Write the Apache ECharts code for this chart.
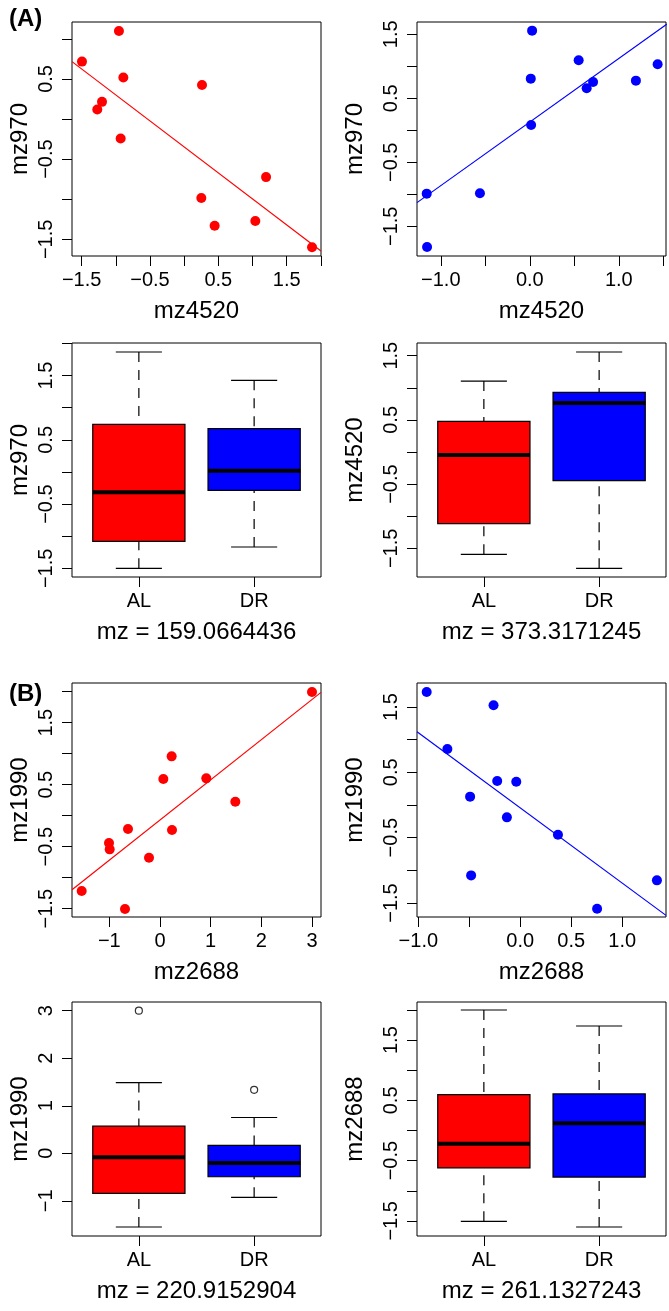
<!DOCTYPE html>
<html><head><meta charset="utf-8">
<script src="https://cdn.jsdelivr.net/npm/echarts@6/dist/echarts.min.js"></script>
<style>html,body{margin:0;padding:0;background:#fff}#c{width:669px;height:1311px}</style>
</head><body><div id="c"></div>
<script>
// ---------- DATA ----------
// (A) scatter, AL group (red): x = mz4520, y = mz970
const a1X = [-0.954,-1.495,-0.890,-1.202,-1.271,-0.929,0.261,0.251,0.446,1.198,1.041,1.871];
const a1Y = [1.097,0.716,0.517,0.214,0.118,-0.243,0.425,-0.985,-1.330,-0.724,-1.272,-1.600];
const a1Line = [[-1.641,0.716],[2.002,-1.645]];
// (A) scatter, DR group (blue)
const a2X = [0.026,0.549,1.436,0.011,0.639,0.711,1.192,0.015,-1.158,-0.560,-1.154];
const a2Y = [1.557,1.094,1.031,0.807,0.656,0.755,0.776,0.083,-0.990,-0.984,-1.823];
const a2Line = [[-1.267,-1.130],[1.538,1.656]];
// boxplots: [low whisker, Q1, median, Q3, high whisker]
const groups = ['AL','DR'];
const a3AL = [-1.500,-1.079,-0.317,0.742,1.868];
const a3DR = [-1.168,-0.285,0.021,0.675,1.427];
const a4AL = [-1.593,-1.116,-0.047,0.477,1.105];
const a4DR = [-1.811,-0.446,0.763,0.929,1.557];
// (B) scatter, AL group (red): x = mz2688, y = mz1990
const b1X = [3.000,0.230,0.066,0.914,1.487,-0.632,0.237,-1.007,-0.993,-0.217,-1.546,-0.691];
const b1Y = [1.995,0.957,0.591,0.602,0.226,-0.215,-0.231,-0.441,-0.543,-0.677,-1.215,-1.505];
const b1Line = [[-1.737,-1.194],[3.178,1.989]];
// (B) scatter, DR group (blue)
const b2X = [-0.918,-0.262,-0.715,-0.226,-0.039,-0.492,-0.131,0.370,-0.482,1.341,0.754];
const b2Y = [1.730,1.526,0.857,0.367,0.357,0.128,-0.189,-0.454,-1.077,-1.153,-1.587];
const b2Line = [[-1.013,1.122],[1.430,-1.689]];
const b3AL = [-1.552,-0.844,-0.081,0.571,1.489];
const b3DR = [-0.928,-0.494,-0.207,0.165,0.753];
const b3ALout = [3.002];
const b3DRout = [1.335];
const b4AL = [-1.508,-0.619,-0.221,0.597,2.000];
const b4DR = [-1.602,-0.773,0.122,0.608,1.735];

// axis ranges
const rA1 = {x:[-1.641,2.002], y:[-1.708,1.210]};
const rA2 = {x:[-1.267,1.530], y:[-1.964,1.692]};
const rA3 = {x:[0.42,2.58], y:[-1.635,2.008]};
const rA4 = {x:[0.42,2.58], y:[-1.946,1.697]};
const rB1 = {x:[-1.737,3.178], y:[-1.634,2.140]};
const rB2 = {x:[-1.013,1.430], y:[-1.714,1.867]};
const rB3 = {x:[0.42,2.58], y:[-1.741,3.184]};
const rB4 = {x:[0.42,2.58], y:[-1.751,2.133]};

// ticks and labelled ticks
const halfTicks = [-1.5,-1,-0.5,0,0.5,1,1.5,2];
const oddHalfLabels = [-1.5,-0.5,0.5,1.5];
const tA1x = [-1.5,-1,-0.5,0,0.5,1,1.5,2], lA1x = [-1.5,-0.5,0.5,1.5];
const tA1y = [-1.5,-1,-0.5,0,0.5,1], lA1y = [-1.5,-0.5,0.5];
const tA2x = [-1,-0.5,0,0.5,1,1.5], lA2x = [-1,0,1];
const tB1x = [-1,0,1,2,3], lB1x = [-1,0,1,2,3];
const tB2x = [-1,-0.5,0,0.5,1], lB2x = [-1,0,0.5,1];
const tB3y = [-1,0,1,2,3], lB3y = [-1,0,1,2,3];
const boxPos = [1,2];

// ---------- CHART ----------
const RED = '#FF0000', BLUE = '#0000FF';
const FONT = '"Liberation Sans", Arial, Helvetica, sans-serif';
const fmt = d => v => (Math.abs(v) < 1e-9 ? 0 : v).toFixed(d).replace('-', '\u2212');
const grpFmt = v => groups[Math.round(v) - 1];
const zip = (xs, ys) => xs.map((x, i) => [x, ys[i]]);

const layout = [
  {left:72, top:22}, {left:417, top:22},
  {left:72, top:343}, {left:417, top:343},
  {left:72, top:683}, {left:417, top:683},
  {left:72, top:1002}, {left:417, top:1002}
];
const grids = layout.map(l => ({
  left:l.left, top:l.top, width:249, height:234, show:true,
  borderColor:'#000', borderWidth:1, backgroundColor:'transparent',
  containLabel:false, outerBoundsMode:'none'
}));

function axis(dim, gi, range, ticks, labels, labelFmt, name, nameGap) {
  const isY = dim === 'y';
  return {
    type:'value', gridIndex:gi, min:range[0], max:range[1],
    name:name, nameLocation:'middle', nameGap:nameGap,
    nameTextStyle:{fontSize:24, color:'#000', fontFamily:FONT},
    axisLine:{show:false, onZero:false},
    splitLine:{show:false},
    axisTick:{show:true, inside:false, length:10, lineStyle:{color:'#000', width:1}, customValues:ticks},
    axisLabel:{show:true, customValues:labels, formatter:labelFmt, fontSize:20, color:'#000',
      fontFamily:FONT, margin:isY ? 16 : 14, rotate:isY ? 90 : 0},
    axisPointer:{show:false}
  };
}

const xAxes = [
  axis('x',0,rA1.x,tA1x,lA1x,fmt(1),'mz4520',43),
  axis('x',1,rA2.x,tA2x,lA2x,fmt(1),'mz4520',43),
  axis('x',2,rA3.x,boxPos,boxPos,grpFmt,'mz = 159.0664436',43),
  axis('x',3,rA4.x,boxPos,boxPos,grpFmt,'mz = 373.3171245',43),
  axis('x',4,rB1.x,tB1x,lB1x,fmt(0),'mz2688',43),
  axis('x',5,rB2.x,tB2x,lB2x,fmt(1),'mz2688',43),
  axis('x',6,rB3.x,boxPos,boxPos,grpFmt,'mz = 220.9152904',43),
  axis('x',7,rB4.x,boxPos,boxPos,grpFmt,'mz = 261.1327243',43)
];
const yAxes = [
  axis('y',0,rA1.y,tA1y,lA1y,fmt(1),'mz970',40),
  axis('y',1,rA2.y,halfTicks,oddHalfLabels,fmt(1),'mz970',50),
  axis('y',2,rA3.y,halfTicks,oddHalfLabels,fmt(1),'mz970',40),
  axis('y',3,rA4.y,halfTicks,oddHalfLabels,fmt(1),'mz4520',50),
  axis('y',4,rB1.y,halfTicks,oddHalfLabels,fmt(1),'mz1990',40),
  axis('y',5,rB2.y,halfTicks,oddHalfLabels,fmt(1),'mz1990',50),
  axis('y',6,rB3.y,tB3y,lB3y,fmt(0),'mz1990',40),
  axis('y',7,rB4.y,halfTicks,oddHalfLabels,fmt(1),'mz2688',50)
];

function scatter(i, xs, ys, color) {
  return {type:'scatter', xAxisIndex:i, yAxisIndex:i, data:zip(xs, ys), symbol:'circle',
    symbolSize:10, itemStyle:{color:color, opacity:1}, silent:true, z:3};
}
function fitLine(i, pts, color) {
  return {type:'line', xAxisIndex:i, yAxisIndex:i, data:pts, showSymbol:false, symbol:'none',
    lineStyle:{color:color, width:1.2}, silent:true, clip:true, z:2};
}
const BOXCOL = [RED, BLUE];
function boxRender(params, api) {
  const pos = api.value(0);
  const pLo = api.coord([pos, api.value(1)]);
  const pQ1 = api.coord([pos, api.value(2)]);
  const pMd = api.coord([pos, api.value(3)]);
  const pQ3 = api.coord([pos, api.value(4)]);
  const pHi = api.coord([pos, api.value(5)]);
  const hw = api.size([0.4, 0])[0];
  const cw = api.size([0.2, 0])[0];
  const x = pLo[0];
  const col = BOXCOL[params.dataIndex];
  const dash = {stroke:'#000', lineWidth:1.2, lineDash:[10,8]};
  const solid = {stroke:'#000', lineWidth:1.2};
  return {type:'group', children:[
    {type:'line', shape:{x1:x, y1:pHi[1], x2:x, y2:pQ3[1]}, style:dash},
    {type:'line', shape:{x1:x, y1:pLo[1], x2:x, y2:pQ1[1]}, style:dash},
    {type:'line', shape:{x1:x-cw, y1:pHi[1], x2:x+cw, y2:pHi[1]}, style:solid},
    {type:'line', shape:{x1:x-cw, y1:pLo[1], x2:x+cw, y2:pLo[1]}, style:solid},
    {type:'rect', shape:{x:x-hw, y:pQ3[1], width:2*hw, height:pQ1[1]-pQ3[1]},
      style:{fill:col, stroke:'#000', lineWidth:1.2}},
    {type:'line', shape:{x1:x-hw, y1:pMd[1], x2:x+hw, y2:pMd[1]}, style:{stroke:'#000', lineWidth:4}}
  ]};
}
function box(i, al, dr) {
  return {type:'custom', xAxisIndex:i, yAxisIndex:i, renderItem:boxRender, silent:true,
    data:[[boxPos[0]].concat(al), [boxPos[1]].concat(dr)], z:2};
}
function outliers(i, pos, vals) {
  return {type:'scatter', xAxisIndex:i, yAxisIndex:i, data:vals.map(v => [pos, v]),
    symbol:'circle', symbolSize:7, itemStyle:{color:'#fff', borderColor:'#000', borderWidth:1.2},
    silent:true, z:3};
}

const option = {
  animation:false,
  backgroundColor:'#fff',
  title:[
    {text:'(A)', left:4, top:2, textStyle:{fontSize:24, fontWeight:'bold', color:'#000', fontFamily:FONT}},
    {text:'(B)', left:4, top:677, textStyle:{fontSize:24, fontWeight:'bold', color:'#000', fontFamily:FONT}}
  ],
  grid:grids,
  xAxis:xAxes,
  yAxis:yAxes,
  series:[
    scatter(0, a1X, a1Y, RED), fitLine(0, a1Line, RED),
    scatter(1, a2X, a2Y, BLUE), fitLine(1, a2Line, BLUE),
    box(2, a3AL, a3DR),
    box(3, a4AL, a4DR),
    scatter(4, b1X, b1Y, RED), fitLine(4, b1Line, RED),
    scatter(5, b2X, b2Y, BLUE), fitLine(5, b2Line, BLUE),
    box(6, b3AL, b3DR), outliers(6, boxPos[0], b3ALout), outliers(6, boxPos[1], b3DRout),
    box(7, b4AL, b4DR)
  ]
};
const chart = echarts.init(document.getElementById('c'), null, {renderer:'canvas'});
chart.setOption(option);
</script>
</body></html>
